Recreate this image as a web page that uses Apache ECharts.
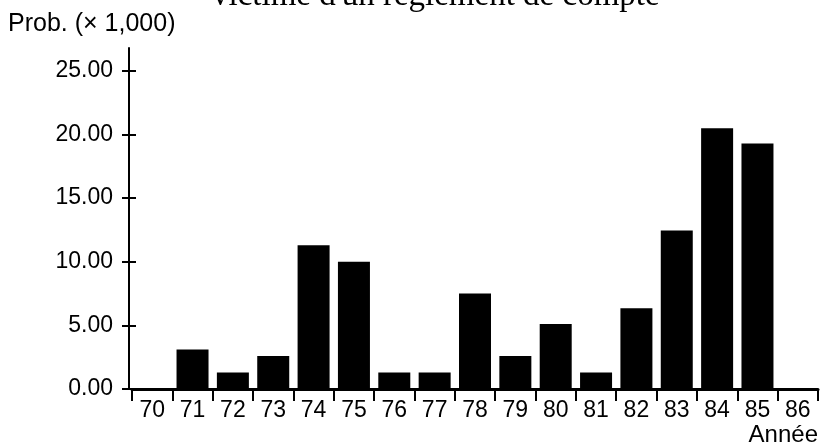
<!DOCTYPE html>
<html>
<head>
<meta charset="utf-8">
<script src="https://cdn.jsdelivr.net/npm/echarts@6/dist/echarts.min.js"></script>
<style>
html,body{margin:0;padding:0;background:#fff;}
#chart{width:823px;height:447px;}
</style>
</head>
<body>
<div id="chart"></div>
<script>
const titleText = "victime d'un règlement de compte";
const yAxisTitle = 'Prob. (× 1,000)';
const xAxisTitle = 'Année';
const years = ['70','71','72','73','74','75','76','77','78','79','80','81','82','83','84','85','86'];
const probValues = [0, 3.1, 1.3, 2.6, 11.3, 10.0, 1.3, 1.3, 7.5, 2.6, 5.1, 1.3, 6.35, 12.45, 20.5, 19.3, 0];
const yTicks = [0, 5, 10, 15, 20, 25];

const chart = echarts.init(document.getElementById('chart'), null, {renderer: 'canvas'});
const sans = 'Liberation Sans, Arial, Helvetica, sans-serif';
const yCommon = {
  type: 'value', min: 0, max: 26.8, interval: 5, position: 'left', offset: 3,
  splitLine: {show: false}
};
chart.setOption({
  animation: false,
  backgroundColor: '#fff',
  title: [
    {text: titleText, left: 212, top: -20, padding: 0,
     textStyle: {fontFamily: 'Liberation Serif, Times New Roman, serif', fontSize: 33, fontWeight: 'normal', color: '#000'}},
    {text: yAxisTitle, left: 8, top: 12, padding: 0,
     textStyle: {fontFamily: sans, fontSize: 25, fontWeight: 'normal', color: '#000'}}
  ],
  grid: {left: 132, right: 5, top: 48, bottom: 57, containLabel: false},
  xAxis: {
    type: 'category', data: years, boundaryGap: true,
    name: xAxisTitle, nameLocation: 'end', nameGap: 0,
    nameTextStyle: {fontFamily: sans, fontSize: 24, color: '#000', align: 'right', verticalAlign: 'top', padding: [34, 0, 0, 0]},
    axisLine: {lineStyle: {color: '#000', width: 3}},
    axisTick: {show: true, inside: false, length: 12, alignWithLabel: false, lineStyle: {color: '#000', width: 2}},
    axisLabel: {fontFamily: sans, fontSize: 23, color: '#000', margin: 10}
  },
  yAxis: [
    Object.assign({}, yCommon, {
      axisLine: {show: true, lineStyle: {color: '#000', width: 2}},
      axisTick: {show: true, inside: false, length: 7, customValues: yTicks, lineStyle: {color: '#000', width: 2}},
      axisLabel: {fontFamily: sans, fontSize: 23, color: '#000', margin: 16, customValues: yTicks,
                  formatter: v => Number(v).toFixed(2)}
    }),
    Object.assign({}, yCommon, {
      axisLine: {show: false},
      axisTick: {show: true, inside: true, length: 7, customValues: yTicks, lineStyle: {color: '#000', width: 2}},
      axisLabel: {show: false}
    })
  ],
  series: [{
    type: 'bar', data: probValues, barWidth: 32, yAxisIndex: 0,
    itemStyle: {color: '#000'}
  }]
});
</script>
</body>
</html>
